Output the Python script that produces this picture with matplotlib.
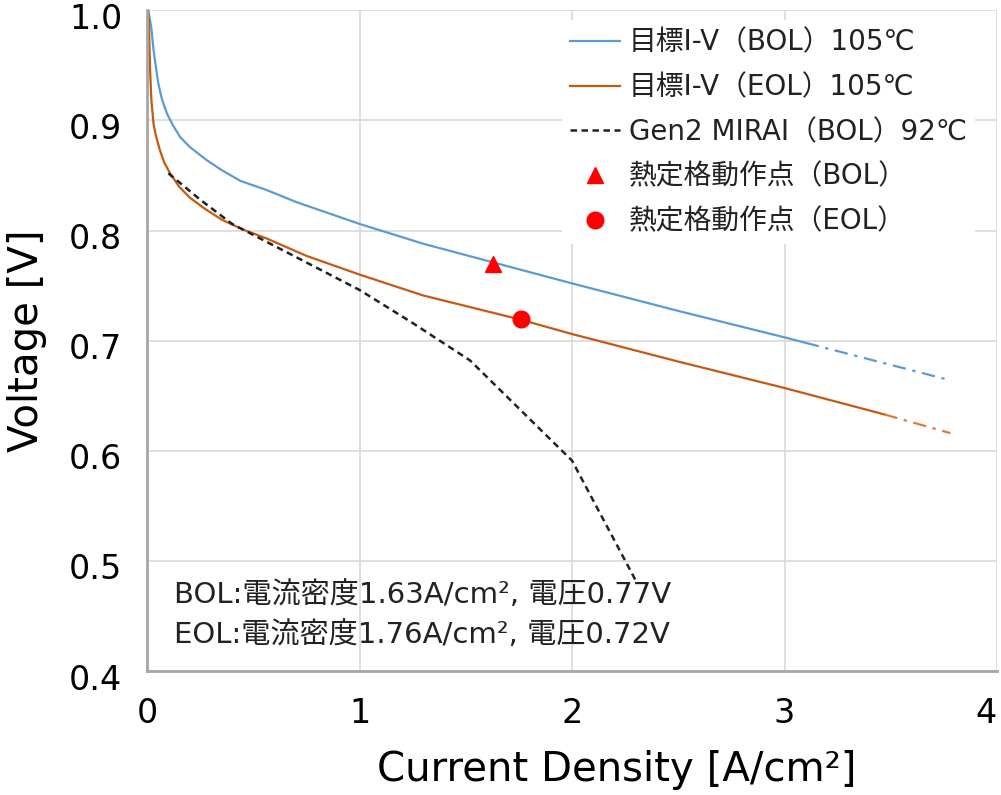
import matplotlib
matplotlib.use('Agg')
import matplotlib.pyplot as plt
from matplotlib.transforms import ScaledTranslation

plt.rcParams['font.family'] = ['DejaVu Sans', 'Noto Sans CJK JP']

# Target I-V, BOL 105C (solid part and extrapolated part)
bol_x = [0.005, 0.019, 0.03, 0.052, 0.07, 0.094, 0.12, 0.155, 0.2, 0.28, 0.35, 0.44, 0.56, 0.7, 0.85,
         1.0, 1.3, 1.63, 2.0, 2.5, 3.0, 3.1]
bol_y = [1.0, 0.985, 0.964, 0.934, 0.919, 0.906, 0.896, 0.885, 0.876, 0.864, 0.855, 0.845, 0.837, 0.826, 0.816,
         0.806, 0.788, 0.771, 0.752, 0.727, 0.703, 0.698]
bol_ext_x = [3.1, 3.76]
bol_ext_y = [0.698, 0.665]

# Target I-V, EOL 105C
eol_x = [0.005, 0.008, 0.01, 0.014, 0.02, 0.03, 0.04, 0.06, 0.08, 0.108, 0.15, 0.2, 0.27, 0.35, 0.45, 0.56,
         0.75, 1.0, 1.3, 1.76, 2.0, 2.5, 3.0, 3.47]
eol_y = [1.0, 0.99, 0.975, 0.945, 0.918, 0.897, 0.887, 0.873, 0.862, 0.852, 0.840, 0.830, 0.820, 0.810, 0.801, 0.793,
         0.777, 0.760, 0.741, 0.719, 0.706, 0.681, 0.657, 0.633]
eol_ext_x = [3.47, 3.78]
eol_ext_y = [0.633, 0.616]

# Gen2 MIRAI BOL 92C
mirai_x = [0.1, 0.25, 0.4, 0.64, 1.0, 1.25, 1.52, 2.0, 2.3]
mirai_y = [0.852, 0.828, 0.806, 0.782, 0.746, 0.716, 0.682, 0.591, 0.482]

# rated operating points
op_bol = (1.63, 0.77)
op_eol = (1.76, 0.72)

blue = '#5B9BD5'
orange = '#C55A11'

fig = plt.figure(figsize=(10.01, 7.95), dpi=100)
ax = fig.add_axes([0.147, 0.156, 0.849, 0.831])

ax.plot(bol_x, bol_y, color=blue, lw=1.6, label='目標I-V（BOL）105℃')
ax.plot(bol_ext_x, bol_ext_y, color=blue, lw=1.6, dashes=(6, 3, 1.5, 3))
ax.plot(eol_x, eol_y, color=orange, lw=1.6, label='目標I-V（EOL）105℃')
ax.plot(eol_ext_x, eol_ext_y, color='#E07A35', lw=1.6, dashes=(6, 3, 1.5, 3))
ax.plot(mirai_x, mirai_y, color='#222222', lw=1.8, dashes=(2.6, 1.8), label='Gen2 MIRAI（BOL）92℃')
ax.plot([op_bol[0]], [op_bol[1]], '^', color='#FF0000', ms=11, ls='none', label='熱定格動作点（BOL）')
ax.plot([op_eol[0]], [op_eol[1]], 'o', color='#FF0000', ms=12, ls='none', label='熱定格動作点（EOL）')

ax.set_xlim(0, 4)
ax.set_ylim(0.4, 1.0)
ax.set_xticks([0, 1, 2, 3, 4])
ax.set_yticks([0.4, 0.5, 0.6, 0.7, 0.8, 0.9, 1.0])
ax.set_yticklabels(['0.4', '0.5', '0.6', '0.7', '0.8', '0.9', '1.0'])
ax.grid(True, color='#D9D9D9', lw=1.2)
ax.set_axisbelow(True)
for s in ['top', 'right']:
    ax.spines[s].set_visible(False)
for s in ['left', 'bottom']:
    ax.spines[s].set_color('#A6A6A6')
    ax.spines[s].set_linewidth(2)
ax.tick_params(length=0, labelsize=24)
ax.tick_params(axis='x', pad=19)
ax.tick_params(axis='y', pad=18)

# nudge y tick labels down a little so the top one is not clipped
shift = ScaledTranslation(0, -4 / 72, fig.dpi_scale_trans)
for lab in ax.get_yticklabels():
    lab.set_transform(lab.get_transform() + shift)
# last x label sits at the right edge of the figure
ax.get_xticklabels()[-1].set_ha('right')

ax.set_xlabel('Current Density [A/cm²]', fontsize=29, labelpad=14, x=0.553)
ax.set_ylabel('Voltage [V]', fontsize=29, labelpad=16)

ax.text(0.127, 0.469, 'BOL:電流密度1.63A/cm², 電圧0.77V', fontsize=21, va='center', color='#222222')
ax.text(0.127, 0.433, 'EOL:電流密度1.76A/cm², 電圧0.72V', fontsize=21, va='center', color='#222222')

leg = ax.legend(loc='upper right', bbox_to_anchor=(0.974, 0.985), fontsize=20, frameon=True,
                handlelength=1.8, handletextpad=0.3, labelspacing=0.6, borderaxespad=0.0,
                borderpad=0.3)
leg.get_frame().set_facecolor('white')
leg.get_frame().set_edgecolor('none')
leg.get_frame().set_alpha(1.0)
for t in leg.get_texts():
    t.set_color('#222222')

fig.savefig('out.png', dpi=100)
